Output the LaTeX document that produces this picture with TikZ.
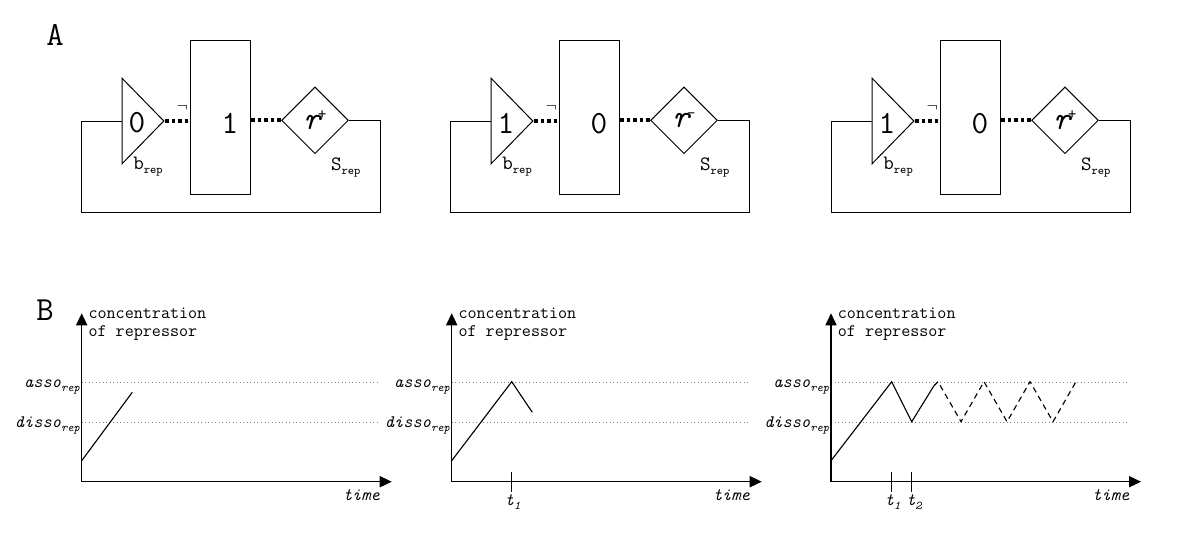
\documentclass[tikz,border=0pt]{standalone}
\usepackage{fontspec}
\usetikzlibrary{shapes.geometric,arrows.meta,calc,positioning}
\newcommand{\sub}[1]{\raisebox{-0.45ex}{\fontsize{8.5}{9}\selectfont #1}}
\newcommand{\setsz}[1]{\fontsize{#1}{#1}\selectfont}

\begin{document}
\begin{tikzpicture}[x=0.025cm, y=-0.025cm, font=\ttfamily,
    gate/.style={isosceles triangle, isosceles triangle stretches, draw, line width=0.7pt,
        minimum width=2.13cm, minimum height=1.04cm, inner sep=0pt, anchor=west},
    gene/.style={rectangle, draw, line width=0.7pt, minimum width=1.5cm, minimum height=3.85cm},
    site/.style={diamond, draw, line width=0.7pt, minimum size=1.67cm, inner sep=0pt},
    digit/.style={inner sep=0pt, font=\ttfamily\setsz{23}},
    tag/.style={inner sep=0pt, font=\ttfamily\setsz{14.5}},
    link/.style={line width=2.6pt, dash pattern=on 2.6pt off 2pt},
    wire/.style={line width=0.7pt},
    axis/.style={line width=0.8pt, {Triangle[length=0.3cm,width=0.28cm]}-{Triangle[length=0.3cm,width=0.28cm]}},
    level/.style={gray, dotted, line width=0.5pt},
    trace/.style={line width=0.8pt},
    txt/.style={inner sep=0pt, font=\ttfamily\setsz{12.5}},
    itxt/.style={inner sep=0pt, font=\ttfamily\itshape\setsz{12.5}}]
    \useasboundingbox (0,0) rectangle (1200,550);

    % Panel labels
    \node[inner sep=0pt, font=\ttfamily\setsz{24}] (labA) at (55,35) {A};
    \node[inner sep=0pt, font=\ttfamily\setsz{24}] (labB) at (45,310) {B};

    % A: switch circuits
    \foreach \dx/\bv/\gv/\sv/\i in {0/0/1/+/1, 369/1/0/-/2, 750/1/0/+/3} {
        \begin{scope}[xshift=\dx*0.025cm]
            \node[gate] (b\i) at (121.7,121) {};
            \node[gene] (g\i) at (220.7,117.7) {};
            \node[site] (s\i) at (315,120.3) {};
            \node[digit] (bv\i) at ([xshift=0.38cm,yshift=-0.05cm]b\i.west) {\bv};
            \node[digit] (gv\i) at ([xshift=0.23cm,yshift=-0.15cm]g\i.center) {\gv};
            \node[digit] (sv\i) at (s\i.center) {{\itshape r}\kern-0.08em\raisebox{0.3em}{\setsz{12}\sv}};
            \node[tag] (bl\i) at ([xshift=0.66cm,yshift=-1.15cm]b\i.west) {b\sub{rep}};
            \node[tag] (sl\i) at ([xshift=-0.08cm,yshift=-1.19cm]s\i.east) {S\sub{rep}};
            \node[inner sep=0pt, font=\setsz{12}] (n\i) at ($(b\i.apex -| g\i.west)+(-8,-13)$) {$\neg$};
            \draw[link] (b\i.apex) -- (b\i.apex -| g\i.west);
            \draw[link] (g\i.east |- s\i.west) -- (s\i.west);
            \draw[wire] (s\i.east) -| ++(32,92) -| ([xshift=-1cm]b\i.west) -- (b\i.west);
        \end{scope}
    }

    % B: axes and thresholds
    \foreach \ox/\i in {81.7/1, 451.7/2, 831/3} {
        \begin{scope}[shift={(\ox,481.7)}]
            \coordinate (o\i) at (0,0);
            \coordinate (x\i) at (310,0);
            \coordinate (y\i) at (0,-168.4);
            \draw[level] (0,-99.4) -- (298.5,-99.4);
            \draw[level] (0,-59.4) -- (298.5,-59.4);
            \draw[axis] (y\i) -- (o\i) -- (x\i);
            \node[txt, anchor=north west, align=left] (c\i) at (6.6,-174) {concentration\\of repressor};
            \node[itxt, anchor=base east] (a\i) at (-1.5,-94) {asso\sub{rep}};
            \node[itxt, anchor=base east] (d\i) at (-1.5,-54) {disso\sub{rep}};
            \node[itxt, anchor=base east] (tm\i) at (298.5,19) {time};
        \end{scope}
    }

    % Curves
    \begin{scope}[shift={(o1)}]
        \draw[trace] (0,-21) -- (50.6,-89.4);
    \end{scope}
    \begin{scope}[shift={(o2)}]
        \draw[trace] (0,-21) -- (60,-100) -- (80.6,-69.4);
        \draw[trace] (60,-10) -- (60,10);
        \node[itxt, anchor=north] (ta2) at (61,13) {t\sub{1}};
    \end{scope}
    \begin{scope}[shift={(o3)}]
        \draw[trace] (0,-21) -- (60.7,-100) -- (80.7,-60) -- (103,-96);
        \draw[trace, dash pattern=on 4pt off 3pt] (103,-96) -- (107,-100)
            \foreach \k in {0,1,2} {-- ({130+46*\k},-60) -- ({153+46*\k},-100)};
        \draw[trace] (60.7,-10) -- (60.7,10);
        \draw[trace] (80.7,-10) -- (80.7,10);
        \node[itxt, anchor=north] (ta3) at (61.7,13) {t\sub{1}};
        \node[itxt, anchor=north] (tb3) at (83,13) {t\sub{2}};
    \end{scope}
\end{tikzpicture}
\end{document}
